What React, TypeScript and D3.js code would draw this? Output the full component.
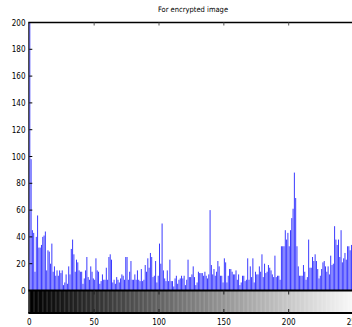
import * as d3 from "d3";

// histogram counts for gray levels 0..255
const counts = [
  420, 98, 45, 43, 14, 40, 56, 32, 32, 34, 40, 41, 44, 15, 30, 29, 20, 35, 14, 18,
  11, 15, 11, 15, 13, 15, 4, 6, 12, 5, 18, 12, 31, 38, 27, 14, 23, 21, 15, 14,
  14, 5, 9, 15, 25, 10, 8, 18, 14, 9, 8, 24, 15, 14, 5, 7, 12, 8, 8, 17,
  8, 25, 27, 23, 6, 8, 5, 10, 8, 6, 9, 12, 11, 8, 25, 25, 8, 14, 22, 8,
  8, 12, 8, 15, 8, 7, 16, 7, 8, 19, 14, 24, 17, 28, 25, 10, 11, 22, 6, 11,
  35, 20, 50, 15, 9, 7, 15, 7, 23, 7, 7, 3, 9, 11, 5, 8, 9, 11, 9, 11,
  4, 8, 23, 10, 10, 12, 18, 10, 4, 6, 14, 13, 13, 13, 11, 14, 11, 9, 12, 60,
  19, 12, 16, 11, 14, 22, 18, 11, 11, 6, 24, 21, 6, 11, 16, 16, 14, 12, 12, 15,
  8, 12, 4, 6, 11, 11, 7, 8, 24, 8, 18, 10, 24, 6, 14, 12, 12, 18, 14, 27,
  10, 20, 13, 14, 19, 17, 15, 12, 10, 26, 10, 11, 11, 8, 33, 33, 33, 45, 38, 43,
  33, 45, 54, 61, 88, 69, 33, 18, 11, 11, 11, 19, 14, 8, 10, 38, 17, 17, 25, 22,
  27, 22, 16, 9, 11, 16, 21, 22, 18, 14, 18, 12, 26, 19, 20, 48, 38, 34, 38, 25,
  45, 21, 24, 28, 23, 33, 33, 30, 34, 30, 25, 35, 20, 28, 22, 30,
];

const title = "For encrypted image";
const yTicks = [0, 20, 40, 60, 80, 100, 120, 140, 160, 180, 200];
const xTicks = [0, 50, 100, 150, 200, 250];
const levels = d3.range(256);

const W = 352;
const H = 327;
const font = "'Liberation Sans Narrow', 'DejaVu Sans Condensed', sans-serif";

export default function App() {
  const x = d3.scaleLinear().domain([0, 255]).range([29.3, 29.3 + 255 * 1.297]);
  const y = d3.scaleLinear().domain([0, 200]).range([290.5, 22.5]);
  const gray = d3.scaleLinear<string>().domain([0, 255]).range(["#000000", "#ffffff"]);

  const top = y(200);
  const bottom = y(0);
  const barTop = bottom;
  const barBottom = 313;
  const right = x(256);

  return (
    <svg
      width={W}
      height={H}
      style={{ position: "absolute", left: 0, top: 0, background: "#fff" }}
      fontFamily={font}
    >
      <defs>
        <clipPath id="plot">
          <rect x={x(0) - 2} y={top} width={right - x(0) + 2} height={bottom - top} />
        </clipPath>
      </defs>

      <text x={193} y={12} fontSize={7.5} textAnchor="middle" fill="#000">
        {title}
      </text>

      {/* histogram stems */}
      <g clipPath="url(#plot)">
        {counts.map((c, i) => (
          <line
            key={i}
            x1={x(i) + 0.5}
            x2={x(i) + 0.5}
            y1={y(0)}
            y2={y(c)}
            stroke="#3030ff"
            strokeWidth={0.95}
          />
        ))}
      </g>

      {/* frame */}
      <line x1={x(0) - 0.5} x2={x(0) - 0.5} y1={top} y2={bottom} stroke="#000" strokeWidth={1} />
      <line x1={x(0) - 1} x2={right} y1={top} y2={top} stroke="#000" strokeWidth={1.6} />
      {xTicks.slice(1).map((t) => (
        <line key={t} x1={x(t)} x2={x(t)} y1={top} y2={top + 3} stroke="#555" strokeWidth={1} />
      ))}

      {yTicks.map((t) => (
        <g key={t}>
          <line x1={x(0)} x2={x(0) + 3} y1={y(t)} y2={y(t)} stroke="#000" strokeWidth={1} />
          <text x={25.5} y={y(t) + 3} fontSize={8} textAnchor="end" fill="#000">
            {t}
          </text>
        </g>
      ))}

      {/* gray level colorbar */}
      {levels.map((v) => (
        <rect
          key={v}
          x={x(v)}
          y={barTop}
          width={x(v + 1) - x(v) + 0.3}
          height={barBottom - barTop}
          fill={gray(v)}
        />
      ))}
      <line x1={x(0) - 1} x2={right} y1={barTop} y2={barTop} stroke="#000" strokeWidth={2} />
      <line x1={x(0) - 1} x2={right} y1={barBottom} y2={barBottom} stroke="#000" strokeWidth={2} />
      <line x1={x(0) - 0.5} x2={x(0) - 0.5} y1={barTop} y2={barBottom} stroke="#000" strokeWidth={1} />
      {xTicks.slice(1).map((t) => (
        <g key={t}>
          <line x1={x(t)} x2={x(t)} y1={barTop} y2={barTop + 4} stroke="#222" strokeWidth={1} />
          <line x1={x(t)} x2={x(t)} y1={barBottom - 4} y2={barBottom} stroke="#222" strokeWidth={1} />
        </g>
      ))}
      {xTicks.map((t) => (
        <text key={t} x={x(t)} y={325} fontSize={8} textAnchor="middle" fill="#000">
          {t}
        </text>
      ))}
    </svg>
  );
}
